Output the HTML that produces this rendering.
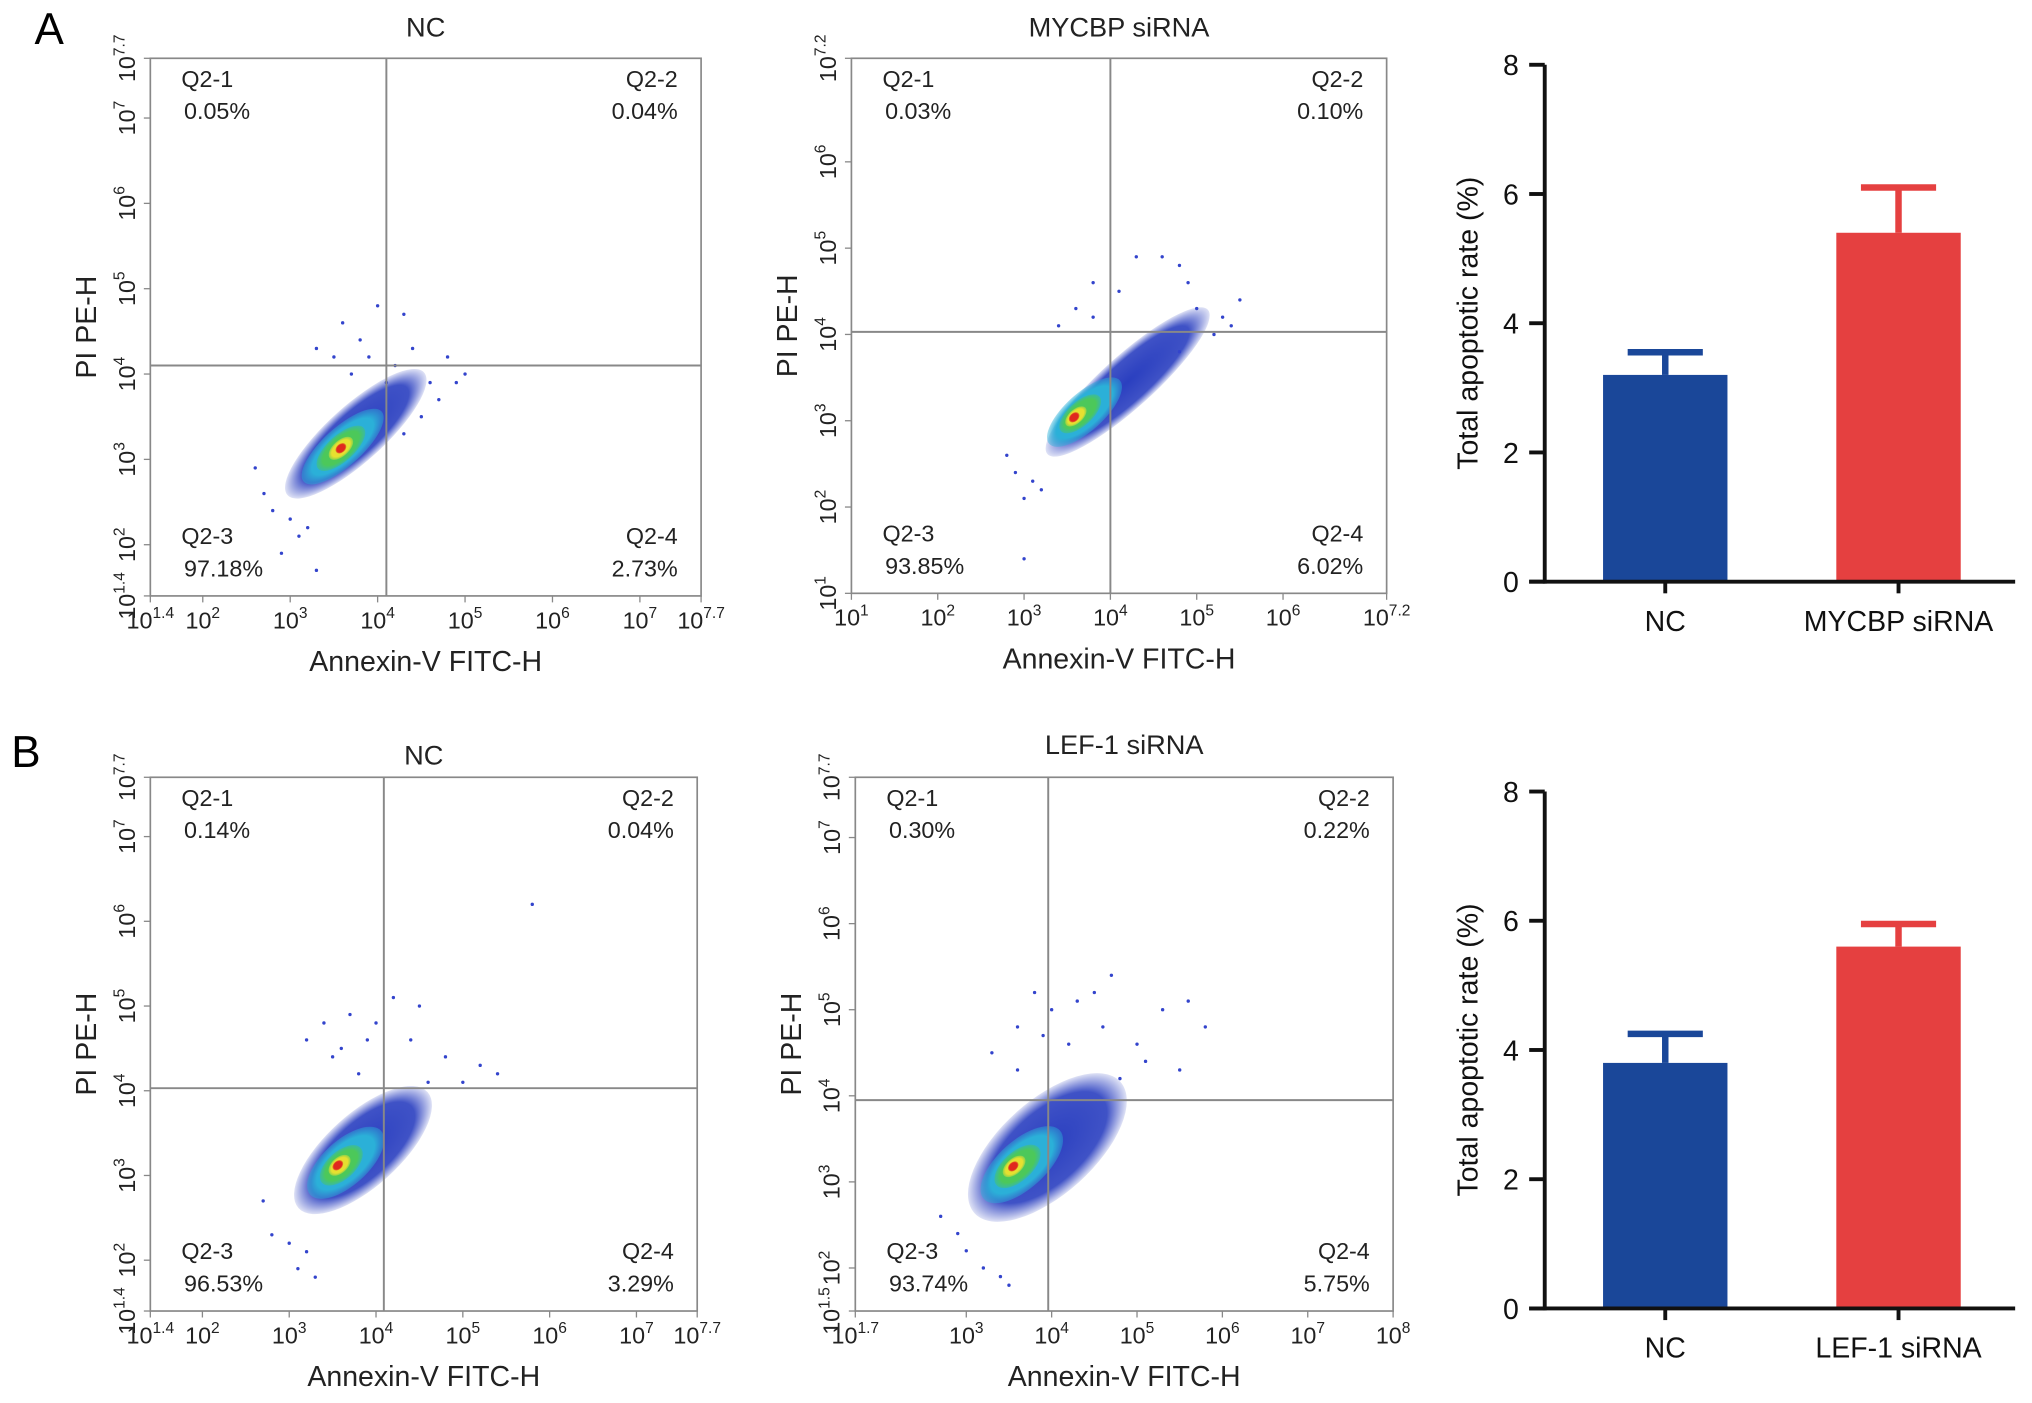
<!DOCTYPE html>
<html><head><meta charset="utf-8"><style>
html,body{margin:0;padding:0;background:#fff;}
svg{display:block;font-family:"Liberation Sans",sans-serif;}
</style></head><body>
<svg id="fig" width="2032" height="1403" viewBox="0 0 1568 1083" preserveAspectRatio="none" xmlns="http://www.w3.org/2000/svg">
<text x="38" y="34" font-size="34" text-anchor="middle">A</text>
<text x="20" y="592" font-size="34" text-anchor="middle">B</text>
</svg>
<script>
const NS="http://www.w3.org/2000/svg";
const svg=document.getElementById('fig');
function el(tag,attrs,parent){const e=document.createElementNS(NS,tag);for(const k in attrs)e.setAttribute(k,attrs[k]);(parent||svg).appendChild(e);return e;}

// ---- Flow plot data ----
const flowTitles=["NC","MYCBP siRNA","NC","LEF-1 siRNA"];
const quadLabels=["Q2-1","Q2-2","Q2-3","Q2-4"];
const quadValuesA1=["0.05%","0.04%","97.18%","2.73%"];
const quadValuesA2=["0.03%","0.10%","93.85%","6.02%"];
const quadValuesB1=["0.14%","0.04%","96.53%","3.29%"];
const quadValuesB2=["0.30%","0.22%","93.74%","5.75%"];
const xTicksA1=[1.4,2,3,4,5,6,7,7.7];
const yTicksA1=[1.4,2,3,4,5,6,7,7.7];
const xTicksA2=[1,2,3,4,5,6,7.2];
const yTicksA2=[1,2,3,4,5,6,7.2];
const xTicksB1=[1.4,2,3,4,5,6,7,7.7];
const yTicksB1=[1.4,2,3,4,5,6,7,7.7];
const xTicksB2=[1.7,3,4,5,6,7,8];
const yTicksB2=[1.5,2,3,4,5,6,7,7.7];
// clouds: [centerLogX, centerLogY, semi-major (decades), semi-minor (decades), level]
const cloudsA1=[[3.75,3.3,1.05,0.32,0],[3.6,3.15,0.6,0.22,1],[3.58,3.13,0.35,0.15,2],[3.58,3.13,0.17,0.09,3],[3.58,3.13,0.07,0.05,4]];
const cloudsA2=[[4.2,3.45,1.25,0.3,0],[3.7,3.1,0.55,0.22,1],[3.65,3.08,0.3,0.14,2],[3.6,3.05,0.15,0.08,3],[3.58,3.04,0.07,0.05,4]];
const cloudsB1=[[3.85,3.3,1.0,0.42,0],[3.65,3.15,0.55,0.26,1],[3.6,3.12,0.3,0.16,2],[3.58,3.12,0.15,0.09,3],[3.56,3.12,0.07,0.05,4]];
const cloudsB2=[[3.95,3.4,1.15,0.55,0],[3.65,3.2,0.6,0.28,1],[3.6,3.18,0.33,0.17,2],[3.56,3.18,0.16,0.09,3],[3.55,3.18,0.07,0.05,4]];
// scattered outlier events [logX, logY]
const dotsA1=[[3.6,4.6],[4.3,4.7],[4.0,4.8],[3.3,4.3],[3.8,4.4],[4.2,4.1],[4.8,4.2],[5.0,4.0],[4.6,3.9],[3.1,2.1],[2.9,1.9],[3.3,1.7],[3.9,4.2],[4.4,4.3],[2.7,2.6],[2.8,2.4],[3.0,2.3],[3.2,2.2],[4.7,3.7],[4.5,3.5],[4.3,3.3],[3.7,4.0],[4.1,3.9],[4.9,3.9],[3.5,4.2],[2.6,2.9]];
const dotsA2=[[4.3,4.9],[4.6,4.9],[4.8,4.8],[3.8,4.6],[4.1,4.5],[5.0,4.3],[5.3,4.2],[5.5,4.4],[3.0,2.1],[3.0,1.4],[3.4,4.1],[4.9,4.6],[2.8,2.6],[2.9,2.4],[3.1,2.3],[5.2,4.0],[5.4,4.1],[4.8,3.8],[3.6,4.3],[3.8,4.2],[3.2,2.2]];
const dotsB1=[[5.8,6.2],[4.5,5.0],[4.2,5.1],[3.7,4.9],[3.9,4.6],[4.8,4.4],[5.2,4.3],[5.4,4.2],[3.1,1.9],[3.3,1.8],[4.0,4.8],[4.6,4.1],[3.5,4.4],[3.2,4.6],[3.4,4.8],[3.6,4.5],[2.8,2.3],[3.0,2.2],[3.2,2.1],[2.7,2.7],[5.0,4.1],[4.4,4.6],[3.8,4.2]];
const dotsB2=[[4.7,5.4],[4.3,5.1],[5.3,5.0],[5.6,5.1],[5.8,4.8],[4.0,5.0],[3.6,4.8],[5.0,4.6],[3.2,2.0],[3.4,1.9],[2.7,2.6],[4.5,5.2],[3.8,5.2],[3.9,4.7],[4.2,4.6],[4.6,4.8],[5.1,4.4],[5.5,4.3],[3.3,4.5],[3.0,2.2],[2.9,2.4],[3.6,4.3],[4.8,4.2],[3.5,1.8]];

const plots=[
 {name:"a1",box:[116,45,541,460],xr:[1.4,7.7],yr:[1.4,7.7],gate:[4.1,4.1],title:flowTitles[0],qv:quadValuesA1,xt:xTicksA1,yt:yTicksA1,cl:cloudsA1,dots:dotsA1,tTop:20},
 {name:"a2",box:[657,45,1070,458],xr:[1,7.2],yr:[1,7.2],gate:[4,4.03],title:flowTitles[1],qv:quadValuesA2,xt:xTicksA2,yt:yTicksA2,cl:cloudsA2,dots:dotsA2,tTop:20},
 {name:"b1",box:[116,600,538,1012],xr:[1.4,7.7],yr:[1.4,7.7],gate:[4.09,4.03],title:flowTitles[2],qv:quadValuesB1,xt:xTicksB1,yt:yTicksB1,cl:cloudsB1,dots:dotsB1,tTop:582},
 {name:"b2",box:[660,600,1075,1012],xr:[1.7,8],yr:[1.5,7.7],gate:[3.96,3.95],title:flowTitles[3],qv:quadValuesB2,xt:xTicksB2,yt:yTicksB2,cl:cloudsB2,dots:dotsB2,tTop:574}
];
const levelColors=["#2a3fc0","#2bb0d8","#4cc85a","#e6e030","#e0281e"];

function expLabel(parent,x,y,v,anchor,rot){
  const g=el('g',{transform:rot?`rotate(-90 ${x} ${y})`:''},parent);
  const t=el('text',{x:x,y:y,'font-size':18,'text-anchor':anchor,fill:'#222'},g);
  t.appendChild(document.createTextNode('10'));
  const s=el('tspan',{dy:-8,'font-size':12},t);
  s.textContent=String(v);
  return t;
}

plots.forEach(p=>{
  const [x0,y0,x1,y1]=p.box;
  const sx=v=>x0+(v-p.xr[0])/(p.xr[1]-p.xr[0])*(x1-x0);
  const sy=v=>y1-(v-p.yr[0])/(p.yr[1]-p.yr[0])*(y1-y0);
  const g=el('g',{});
  
  
  const ppx=(x1-x0)/(p.xr[1]-p.xr[0]);
  const defs=el('defs',{},g);
  p.cl.forEach((c,i)=>{
    const gid='gr'+p.name+i;
    const rg=el('radialGradient',{id:gid},defs);
    el('stop',{offset:'0%','stop-color':levelColors[c[4]],'stop-opacity':1},rg);
    el('stop',{offset:'75%','stop-color':levelColors[c[4]],'stop-opacity':c[4]==0?0.9:1},rg);
    el('stop',{offset:'100%','stop-color':levelColors[c[4]],'stop-opacity':c[4]==0?0.15:0.4},rg);
    const cx=sx(c[0]),cy=sy(c[1]);
    const e=el('ellipse',{cx:cx,cy:cy,rx:c[2]*ppx,ry:c[3]*ppx,fill:`url(#${gid})`,transform:`rotate(-42 ${cx} ${cy})`},g);
    
    
  });
  p.dots.forEach(d=>{
    const c=el('circle',{cx:sx(d[0]),cy:sy(d[1]),r:1.3,fill:'#3344cc'},g);
    
    
  });
  const box=el('rect',{x:x0,y:y0,width:x1-x0,height:y1-y0,fill:'none',stroke:'#888','stroke-width':1.3},g);
  
  
  const gv=el('line',{x1:sx(p.gate[0]),x2:sx(p.gate[0]),y1:y0,y2:y1,stroke:'#888','stroke-width':1.5},g);
  
  
  const gh=el('line',{x1:x0,x2:x1,y1:sy(p.gate[1]),y2:sy(p.gate[1]),stroke:'#888','stroke-width':1.5},g);
  
  
  const pos=[[x0+24,y0+22,'start'],[x1-18,y0+22,'end'],[x0+24,y1-40,'start'],[x1-18,y1-40,'end']];
  p.qv.forEach((v,i)=>{
    const t1=el('text',{x:pos[i][0],y:pos[i][1],'font-size':18,'text-anchor':pos[i][2],fill:'#222'},g);
    t1.textContent=quadLabels[i];
    
    
    const t2=el('text',{x:pos[i][0]+(pos[i][2]=='start'?2:0),y:pos[i][1]+25,'font-size':18,'text-anchor':pos[i][2],fill:'#222'},g);
    t2.textContent=v;
    
    
  });
  p.xt.forEach(v=>{
    el('line',{x1:sx(v),x2:sx(v),y1:y1,y2:y1+5,stroke:'#888'},g);
    const t=expLabel(g,sx(v),y1+25,v,'middle',false);
    
    
  });
  p.yt.forEach(v=>{
    el('line',{x1:x0-5,x2:x0,y1:sy(v),y2:sy(v),stroke:'#888'},g);
    const t=expLabel(g,x0-12,sy(v),v,'middle',true);
    
    
  });
  const tt=el('text',{x:(x0+x1)/2,y:p.tTop+8,'font-size':21,'text-anchor':'middle',fill:'#222'},g);
  tt.textContent=p.title;
  
  
  const xl=el('text',{x:(x0+x1)/2,y:y1+58,'font-size':22,'text-anchor':'middle',fill:'#222'},g);
  xl.textContent='Annexin-V FITC-H';
  
  
  const yc=(y0+y1)/2;
  const yl=el('text',{x:x0-42,y:yc,'font-size':22,'text-anchor':'middle',fill:'#222',transform:`rotate(-90 ${x0-42} ${yc})`},g);
  yl.textContent='PI PE-H';
  
  
});

// ---- Bar charts ----
const barCatsA=["NC","MYCBP siRNA"];
const barValsA=[3.2,5.4];
const barErrA=[3.55,6.1];
const barCatsB=["NC","LEF-1 siRNA"];
const barValsB=[3.8,5.6];
const barErrB=[4.25,5.95];
const barTicks=[0,2,4,6,8];
const barColors=["#1a4799","#e54040"];

[{name:'a',cats:barCatsA,vals:barValsA,err:barErrA,top:50,bot:449},
 {name:'b',cats:barCatsB,vals:barValsB,err:barErrB,top:611,bot:1010}].forEach(b=>{
  const ax=1192, xe=1555;
  const sy=v=>b.bot-v/8*(b.bot-b.top);
  const g=el('g',{});
  
  
  const centers=[1285,1465];
  b.vals.forEach((v,i)=>{
    const cx=centers[i];
    el('line',{x1:cx,x2:cx,y1:sy(v),y2:sy(b.err[i]),stroke:barColors[i],'stroke-width':5},g);
    el('line',{x1:cx-29,x2:cx+29,y1:sy(b.err[i]),y2:sy(b.err[i]),stroke:barColors[i],'stroke-width':5},g);
    const r=el('rect',{x:cx-48,y:sy(v),width:96,height:b.bot-sy(v),fill:barColors[i]},g);
    
    
    el('line',{x1:cx,x2:cx,y1:b.bot,y2:b.bot+9,stroke:'#111','stroke-width':3},g);
    const t=el('text',{x:cx,y:b.bot+38,'font-size':22,'text-anchor':'middle',fill:'#111'},g);
    t.textContent=b.cats[i];
    
    
  });
  el('line',{x1:ax,x2:ax,y1:b.top,y2:b.bot+1.5,stroke:'#111','stroke-width':3},g);
  el('line',{x1:ax-12,x2:xe,y1:b.bot,y2:b.bot,stroke:'#111','stroke-width':3},g);
  barTicks.forEach(v=>{
    el('line',{x1:ax-12,x2:ax,y1:sy(v),y2:sy(v),stroke:'#111','stroke-width':3},g);
    const t=el('text',{x:ax-20,y:sy(v)+8,'font-size':22,'text-anchor':'end',fill:'#111'},g);
    t.textContent=v;
    
    
  });
  const yc=(b.top+b.bot)/2;
  const yl=el('text',{x:1140,y:yc,'font-size':22,'text-anchor':'middle',fill:'#111',transform:`rotate(-90 1140 ${yc})`},g);
  yl.textContent='Total apoptotic rate (%)';
  
  
});
</script>
</body></html>
